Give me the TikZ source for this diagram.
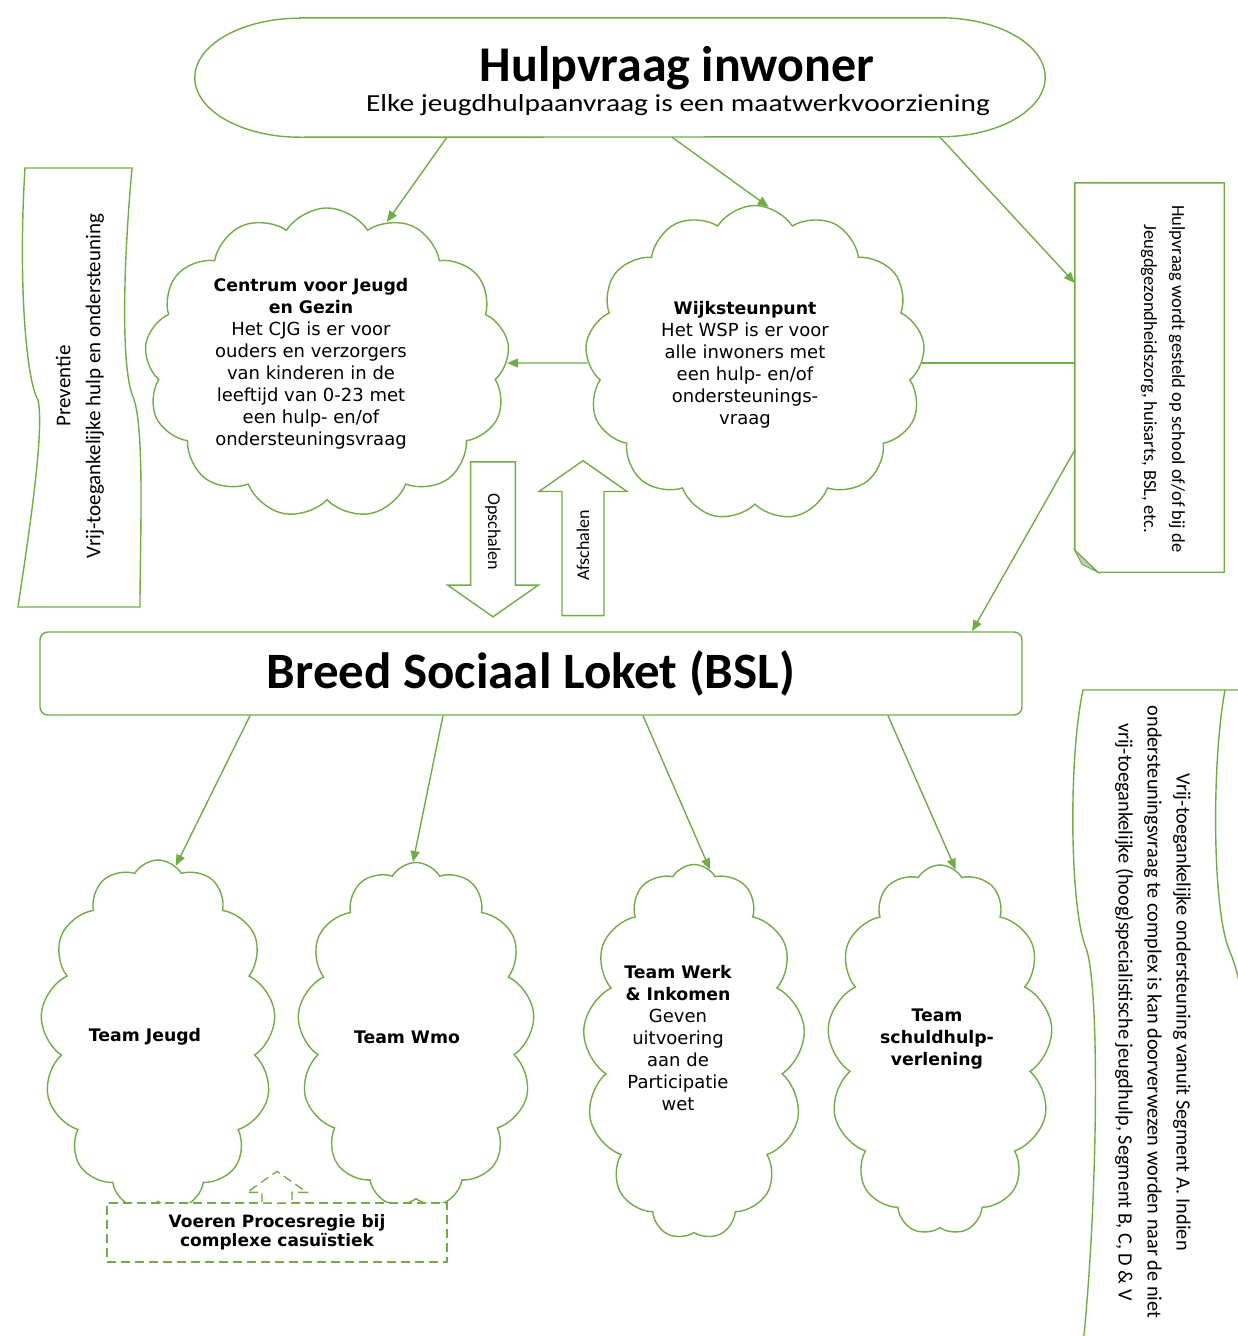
\documentclass[tikz,border=0pt]{standalone}
\usepackage{fontspec}
\setmainfont{Carlito}
\newfontfamily\verdanafont{DejaVu Sans}
\newfontfamily\widefont[FakeStretch=1.2]{Carlito}
\usetikzlibrary{shapes.symbols, shapes.arrows, arrows.meta}
\definecolor{wordgreen}{HTML}{70AD47}
\newcommand{\cloudhead}[1]{{\fontsize{17.3}{22}\selectfont\bfseries #1}}

\begin{document}
\begin{tikzpicture}[
    x=1pt, y=-1pt,
    line/.style={draw=wordgreen, line width=1.4pt},
    dashline/.style={draw=wordgreen, line width=1.3pt, dash pattern=on 9pt off 5pt},
    cloudbox/.style={cloud, cloud puffs=13, cloud puff arc=115, cloud ignores aspect, line, fill=white, inner sep=0pt},
    tallcloud/.style={cloudbox, cloud puffs=13, cloud puff arc=120},
    cloudtxt/.style={align=center, inner sep=0pt, font=\verdanafont\fontsize{18}{22}\selectfont},
    sidetxt/.style={align=center, inner sep=0pt, font=\fontsize{18.5}{28}\selectfont},
    bigarrow/.style={single arrow, line, fill=white, single arrow head extend=23pt, single arrow tip angle=110, single arrow head indent=0pt, minimum height=155pt, inner ysep=14pt, inner xsep=4pt, font=\fontsize{18}{20}\selectfont},
    conn/.style={-{Triangle[length=11pt,width=9pt]}, wordgreen, line width=1.4pt},
]
\useasboundingbox (0,0) rectangle (1238,1336);
\clip (0,0) rectangle (1238,1336);

% top: hulpvraag
\node[minimum width=850pt, minimum height=119pt] (hulp) at (620,77.5) {};
\draw[line] ([xshift=105pt]hulp.north west) -- ([xshift=-105pt]hulp.north east)
    arc[start angle=90, end angle=-90, x radius=105pt, y radius=59.5pt]
    -- ([xshift=105pt]hulp.south west)
    arc[start angle=270, end angle=90, x radius=105pt, y radius=59.5pt] -- cycle;
\node[anchor=base, font=\fontsize{50}{56}\selectfont\bfseries] (hulptitle) at (677,81) {Hulpvraag inwoner};
\node[anchor=base, font=\widefont\fontsize{24.5}{28}\selectfont] (hulpsub) at (678,111) {Elke jeugdhulpaanvraag is een maatwerkvoorziening};

% left scroll
\draw[line, fill=white] (25,168) -- (132,168) .. controls (122,280) and (122,370) .. (133,397)
    .. controls (145,425) and (140,540) .. (140,607) -- (18,607)
    .. controls (28,540) and (45,430) .. (38,400) .. controls (26,380) and (18,280) .. (25,168) -- cycle;
\node[sidetxt, rotate=90, font=\fontsize{21}{30}\selectfont] (prevtxt) at (80,386) {Preventie\\Vrij-toegankelijke hulp en ondersteuning};

% clouds
\node[cloudbox, minimum width=365pt, minimum height=310pt] (cjg) at (327,363) {};
\node[cloudbox, minimum width=340pt, minimum height=315pt] (wsp) at (755,363) {};
\node[cloudtxt] (cjgtxt) at (311,364) {\cloudhead{Centrum voor Jeugd}\\\cloudhead{en Gezin}\\Het CJG is er voor\\ouders en verzorgers\\van kinderen in de\\leeftijd van 0-23 met\\een hulp- en/of\\ondersteuningsvraag};
\node[cloudtxt] (wsptxt) at (745,365) {\cloudhead{Wijksteunpunt}\\Het WSP is er voor\\alle inwoners met\\een hulp- en/of\\ondersteunings-\\vraag};

% note
\node[minimum width=149pt, minimum height=389pt] (note) at (1149.5,377.5) {};
\draw[line, fill=white] (note.north west) -- (note.north east) -- (note.south east)
    -- ([xshift=23pt]note.south west) -- ([yshift=22pt]note.south west) -- cycle;
\filldraw[line, line width=1pt, fill=wordgreen!35!gray!45] ([xshift=23pt]note.south west) -- ([yshift=22pt]note.south west) -- ([xshift=7pt,yshift=8pt]note.south west) -- cycle;
\node[sidetxt, rotate=-90] (notetxt) at (1163,379) {Hulpvraag wordt gesteld op school of/of bij de\\Jeugdgezondheidszorg, huisarts, BSL, etc.};

% op- en afschalen
\node[bigarrow, rotate=-90] (opsch) at (493,531.5) {Opschalen};
\node[bigarrow, rotate=90] (afsch) at (583,545.5) {Afschalen};

% BSL
\node[line, rounded corners=8pt, minimum width=982pt, minimum height=83pt, font=\fontsize{51}{60}\selectfont\bfseries] (bsl) at (531,673.5) {Breed Sociaal Loket (BSL)};

% right scroll
\draw[line, fill=white] (1083,690) -- (1250,690) -- (1250,1345) -- (1083,1345)
    .. controls (1098,1200) and (1100,985) .. (1086,948)
    .. controls (1070,910) and (1068,760) .. (1083,690) -- cycle;
\draw[line] (1225,690) .. controls (1212,760) and (1212,900) .. (1228,947) .. controls (1240,975) and (1245,1000) .. (1250,1100);
\node[sidetxt, rotate=-90, font=\fontsize{20.3}{29}\selectfont] (segtxt) at (1153,1012) {Vrij-toegankelijke ondersteuning vanuit Segment A. Indien\\ondersteuningsvraag te complex is kan doorverwezen worden naar de niet\\vrij-toegankelijke (hoog)specialistische jeugdhulp, Segment B, C, D \& V};

% teams
\node[tallcloud, minimum width=235pt, minimum height=350pt] (jeugd) at (158,1035) {};
\node[tallcloud, minimum width=237pt, minimum height=345pt] (wmo) at (416,1035) {};
\node[tallcloud, minimum width=222pt, minimum height=375pt] (werk) at (694,1052) {};
\node[tallcloud, minimum width=225pt, minimum height=370pt] (schuld) at (940,1050) {};
\node[cloudtxt] (jeugdtxt) at (145,1037) {\cloudhead{Team Jeugd}};
\node[cloudtxt] (wmotxt) at (407,1037) {\cloudhead{Team Wmo}};
\node[cloudtxt] (werktxt) at (678,1038) {\cloudhead{Team Werk}\\\cloudhead{\& Inkomen}\\Geven\\uitvoering\\aan de\\Participatie\\wet};
\node[cloudtxt] (schuldtxt) at (937,1039) {\cloudhead{Team}\\\cloudhead{schuldhulp-}\\\cloudhead{verlening}};

% procesregie
\node[dashline, fill=white, minimum width=340pt, minimum height=59pt, align=center, font=\verdanafont\bfseries\fontsize{17}{19.5}\selectfont] (proc) at (277,1232.5) {Voeren Procesregie bij\\complexe casuïstiek};
\draw[dashline, fill=white] ([xshift=-15pt]proc.north) -- ++(0,-10) -- ++(-15,0) -- ++(30,-21) -- ++(30,21) -- ++(-15,0) -- ++(0,10);

% connectors
\draw[conn] ([xshift=-173pt]hulp.south) -- (cjg.67);
\draw[conn] ([xshift=52pt]hulp.south) -- (wsp.85);
\draw[conn] ([xshift=320pt]hulp.south) -- ([yshift=94.5pt]note.west);
\draw[conn] ([yshift=-72.5pt]note.west) -- ([xshift=441pt]bsl.north);
\draw[line] (wsp.east) -- (wsp.east -| note.west);
\draw[conn] (wsp.west) -- (cjg.east);
\draw[conn] ([xshift=-281pt]bsl.south) -- (jeugd.84);
\draw[conn] ([xshift=-88pt]bsl.south) -- (wmo.91);
\draw[conn] ([xshift=112pt]bsl.south) -- (werk.85);
\draw[conn] ([xshift=357pt]bsl.south) -- (schuld.85);
\end{tikzpicture}
\end{document}
